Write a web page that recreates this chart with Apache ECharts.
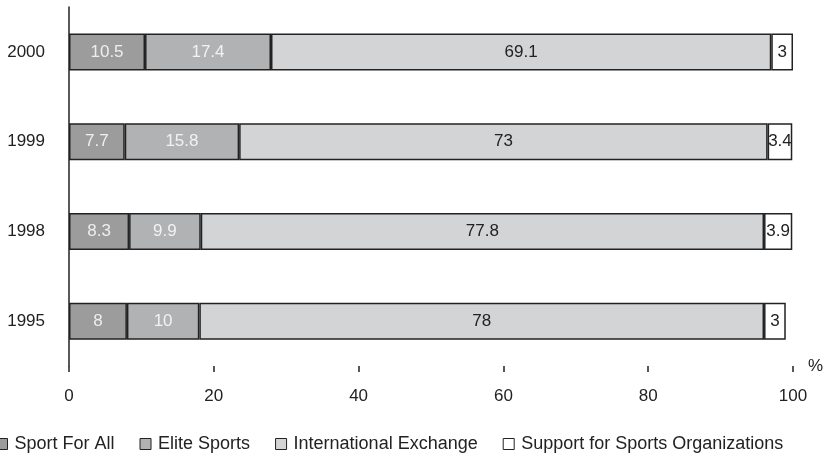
<!DOCTYPE html>
<html>
<head>
<meta charset="utf-8">
<script src="https://cdn.jsdelivr.net/npm/echarts@6/dist/echarts.min.js"></script>
<style>
  html, body { margin: 0; padding: 0; background: #fff; }
  #chart { width: 829px; height: 460px; }
</style>
</head>
<body>
<div id="chart"></div>
<script>
// data
var years = ['1995', '1998', '1999', '2000'];
var sportForAll = [8, 8.3, 7.7, 10.5];
var eliteSports = [10, 9.9, 15.8, 17.4];
var intlExchange = [78, 77.8, 73, 69.1];
var supportOrgs = [3, 3.9, 3.4, 3];
var xTicks = [0, 20, 40, 60, 80, 100];

var chart = echarts.init(document.getElementById('chart'));

function seg(name, data, color, labelColor) {
    return {
        name: name,
        type: 'bar',
        stack: 'all',
        barWidth: 37,
        data: data,
        itemStyle: { color: color, borderColor: '#222', borderWidth: 1.5 },
        label: {
            show: true,
            position: 'inside',
            color: labelColor,
            fontSize: 17,
            fontFamily: 'Liberation Sans, Arial, sans-serif'
        }
    };
}

var option = {
    animation: false,
    backgroundColor: '#fff',
    textStyle: { fontFamily: 'Liberation Sans, Arial, sans-serif' },
    grid: { left: 69, right: 36, top: 7, bottom: 94 },
    legend: {
        left: -9,
        bottom: 2,
        icon: 'rect',
        itemWidth: 11,
        itemHeight: 11,
        itemGap: 25,
        textStyle: { fontSize: 18, color: '#222', padding: [0, 0, 0, 2] },
        itemStyle: { borderColor: '#222', borderWidth: 1 }
    },
    xAxis: {
        type: 'value',
        min: xTicks[0],
        max: xTicks[xTicks.length - 1],
        interval: 20,
        name: '%',
        nameLocation: 'end',
        nameGap: 15,
        nameTextStyle: { fontSize: 17, color: '#222' },
        axisLine: { lineStyle: { color: '#222', width: 1.5 } },
        axisTick: { show: true, length: 6, lineStyle: { color: '#222', width: 1.5 } },
        axisLabel: { fontSize: 17, color: '#222', margin: 22 },
        splitLine: { show: false }
    },
    yAxis: {
        type: 'category',
        data: years,
        axisLine: { lineStyle: { color: '#222', width: 1.5 } },
        axisTick: { show: false },
        axisLabel: { fontSize: 17, color: '#222', margin: 24 }
    },
    series: [
        seg('Sport For All', sportForAll, '#9c9c9c', '#eeeeee'),
        seg('Elite Sports', eliteSports, '#b1b2b4', '#f2f2f2'),
        seg('International Exchange', intlExchange, '#d3d4d6', '#222'),
        seg('Support for Sports Organizations', supportOrgs, '#ffffff', '#222')
    ]
};

chart.setOption(option);
window.onresize = function () {
    chart.resize();
};
</script>
</body>
</html>
